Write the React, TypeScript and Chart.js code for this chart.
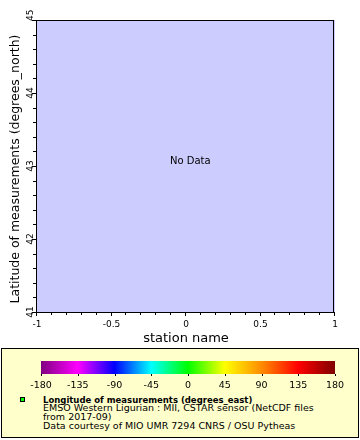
import React, { useEffect, useRef } from "react";
import { Chart, registerables } from "chart.js";

Chart.register(...registerables);

// ---- data ----
const stationNames: string[] = [];
const latitudes: number[] = [];
const longitudes: number[] = [];

const xRange = [-1, 1];
const yRange = [41, 45];
const xTickValues = [-1, -0.5, 0, 0.5, 1];
const xTickLabels = ["-1", "-0.5", "0", "0.5", "1"];
const yTickValues = [41, 42, 43, 44, 45];
const yTickLabels = ["41", "42", "43", "44", "45"];
const xMinorStep = 0.1;
const yMinorStep = 0.2;

const colorbarRange = [-180, 180];
const colorbarTicks = [-180, -135, -90, -45, 0, 45, 90, 135, 180];
const colorbarLabels = ["-180", "-135", "-90", "-45", "0", "45", "90", "135", "180"];
const colorbarColors = [
  "#800080",
  "#ff00ff",
  "#0000ff",
  "#00ffff",
  "#00ff00",
  "#ffff00",
  "#ff8c00",
  "#ff0000",
  "#800000",
];

const xTitle = "station name";
const yTitle = "Latitude of measurements (degrees_north)";
const legendTitle = "Longitude of measurements (degrees_east)";
const legendLines = [
  "EMSO Western Ligurian : MII, CSTAR sensor (NetCDF files",
  "from 2017-09)",
  "Data courtesy of MIO UMR 7294 CNRS / OSU Pytheas",
];

const FONT = '"DejaVu Sans", sans-serif';

const mainPlugin = {
  id: "erddapAxes",
  beforeDraw(chart: any) {
    const { ctx, chartArea: a } = chart;
    ctx.save();
    ctx.fillStyle = "#ccccff";
    ctx.fillRect(a.left, a.top, a.right - a.left, a.bottom - a.top);
    ctx.restore();
  },
  afterDraw(chart: any) {
    const { ctx, chartArea: a } = chart;
    const xs = chart.scales.x;
    const ys = chart.scales.y;
    ctx.save();
    ctx.strokeStyle = "#000";
    ctx.fillStyle = "#000";
    ctx.lineWidth = 1;
    ctx.strokeRect(a.left - 0.5, a.top + 0.5, a.right - a.left - 1, a.bottom - a.top);

    // minor + major ticks x
    const nx = Math.round((xRange[1] - xRange[0]) / xMinorStep);
    for (let i = 0; i <= nx; i++) {
      const v = xRange[0] + i * xMinorStep;
      const px = Math.round(xs.getPixelForValue(v)) - 0.5;
      const major = xTickValues.some((t) => Math.abs(t - v) < 1e-6);
      ctx.beginPath();
      ctx.moveTo(px, a.bottom);
      ctx.lineTo(px, a.bottom + (major ? 4 : 3));
      ctx.stroke();
    }
    const ny = Math.round((yRange[1] - yRange[0]) / yMinorStep);
    for (let i = 0; i <= ny; i++) {
      const v = yRange[0] + i * yMinorStep;
      const py = Math.round(ys.getPixelForValue(v)) + 0.5;
      const major = yTickValues.some((t) => Math.abs(t - v) < 1e-6);
      ctx.beginPath();
      ctx.moveTo(a.left - 1, py);
      ctx.lineTo(a.left - 1 - (major ? 4 : 3), py);
      ctx.stroke();
    }

    // x tick labels
    ctx.font = `9px ${FONT}`;
    ctx.textAlign = "center";
    ctx.textBaseline = "alphabetic";
    xTickValues.forEach((v, i) => {
      ctx.fillText(xTickLabels[i], xs.getPixelForValue(v), a.bottom + 15);
    });
    // y tick labels (rotated)
    yTickValues.forEach((v, i) => {
      const py = ys.getPixelForValue(v);
      ctx.save();
      ctx.translate(a.left - 4, i === yTickValues.length - 1 ? py + 1 : py);
      ctx.rotate(-Math.PI / 2);
      ctx.textAlign = i === yTickValues.length - 1 ? "left" : "center";
      ctx.fillText(yTickLabels[i], 0, 0);
      ctx.restore();
    });

    // titles
    ctx.font = `13px ${FONT}`;
    ctx.textAlign = "center";
    ctx.fillText(xTitle, (a.left + a.right) / 2, a.bottom + 30);
    ctx.save();
    ctx.font = `12.5px ${FONT}`;
    ctx.translate(a.left - 18, (a.top + a.bottom) / 2 + 3);
    ctx.rotate(-Math.PI / 2);
    ctx.fillText(yTitle, 0, 0);
    ctx.restore();

    if (latitudes.length === 0) {
      ctx.font = `10px ${FONT}`;
      ctx.textAlign = "left";
      ctx.fillText("No Data", (a.left + a.right) / 2 - 16, (a.top + a.bottom) / 2 - 2);
    }
    ctx.restore();
  },
};

const colorbarPlugin = {
  id: "colorbar",
  afterDraw(chart: any) {
    const { ctx, chartArea: a } = chart;
    const xs = chart.scales.x;
    ctx.save();
    const g = ctx.createLinearGradient(a.left, 0, a.right, 0);
    colorbarTicks.forEach((v, i) => {
      g.addColorStop((v - colorbarRange[0]) / (colorbarRange[1] - colorbarRange[0]), colorbarColors[i]);
    });
    ctx.fillStyle = g;
    ctx.fillRect(a.left, a.top, a.right - a.left, a.bottom - a.top);
    ctx.strokeStyle = "#000";
    ctx.fillStyle = "#000";
    ctx.font = `9.5px ${FONT}`;
    ctx.textAlign = "center";
    colorbarTicks.forEach((v, i) => {
      const px = Math.round(xs.getPixelForValue(v)) + 0.5;
      ctx.beginPath();
      ctx.moveTo(px, a.bottom);
      ctx.lineTo(px, a.bottom + 2);
      ctx.stroke();
      ctx.fillText(colorbarLabels[i], xs.getPixelForValue(v), a.bottom + 13.5);
    });
    ctx.restore();
  },
};

export default function App() {
  const mainRef = useRef<HTMLCanvasElement>(null);
  const cbRef = useRef<HTMLCanvasElement>(null);

  useEffect(() => {
    const main = new Chart(mainRef.current!, {
      type: "scatter",
      data: {
        labels: stationNames,
        datasets: [
          {
            label: legendTitle,
            data: latitudes.map((y, i) => ({ x: i, y, lon: longitudes[i] })),
            backgroundColor: "#00ff00",
          },
        ],
      },
      options: {
        responsive: false,
        animation: false,
        layout: { padding: { left: 37, top: 20, right: 25, bottom: 36 } },
        scales: {
          x: { type: "linear", min: xRange[0], max: xRange[1], display: false },
          y: { type: "linear", min: yRange[0], max: yRange[1], display: false },
        },
        plugins: { legend: { display: false }, tooltip: { enabled: false } },
      },
      plugins: [mainPlugin],
    });
    const cb = new Chart(cbRef.current!, {
      type: "scatter",
      data: { datasets: [{ data: [] }] },
      options: {
        responsive: false,
        animation: false,
        layout: { padding: { left: 41, top: 9, right: 25, bottom: 18 } },
        scales: {
          x: { type: "linear", min: colorbarRange[0], max: colorbarRange[1], display: false },
          y: { type: "linear", min: 0, max: 1, display: false },
        },
        plugins: { legend: { display: false }, tooltip: { enabled: false } },
      },
      plugins: [colorbarPlugin],
    });
    return () => {
      main.destroy();
      cb.destroy();
    };
  }, []);

  return (
    <div style={{ position: "absolute", left: 0, top: 0, width: 360, height: 440, background: "#fff" }}>
      <canvas ref={mainRef} width={360} height={348} style={{ position: "absolute", left: 0, top: 0 }} />
      <div
        style={{
          position: "absolute",
          left: 1,
          top: 348,
          width: 358,
          height: 90,
          boxSizing: "border-box",
          border: "1px solid #000",
          background: "#ffffcc",
        }}
      />
      <canvas ref={cbRef} width={360} height={40} style={{ position: "absolute", left: 0, top: 352 }} />
      <div
        style={{
          position: "absolute",
          left: 20,
          top: 397,
          width: 5,
          height: 5,
          boxSizing: "border-box",
          border: "1px solid #000",
          background: "#00ff00",
        }}
      />
      <div
        style={{
          position: "absolute",
          left: 43,
          top: 395.6,
          fontFamily: FONT,
          color: "#000",
          whiteSpace: "nowrap",
        }}
      >
        <div style={{ fontWeight: "bold", fontSize: 8.5, lineHeight: "8.5px" }}>{legendTitle}</div>
        {legendLines.map((t, i) => (
          <div key={i} style={{ fontSize: 9.5, lineHeight: "8.7px" }}>
            {t}
          </div>
        ))}
      </div>
    </div>
  );
}
